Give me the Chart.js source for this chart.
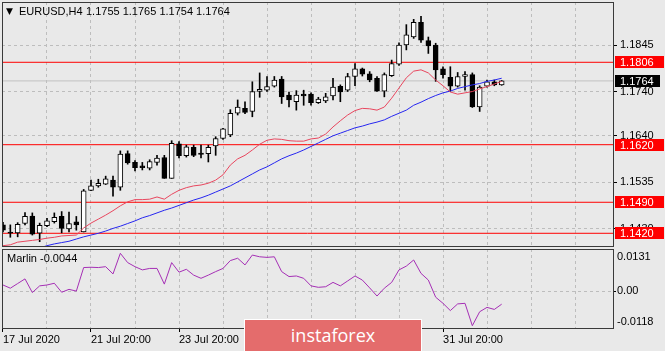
<!DOCTYPE html>
<html><head><meta charset="utf-8">
<script src="https://cdn.jsdelivr.net/npm/chart.js@4.4.0/dist/chart.umd.min.js"></script>
<style>
html,body{margin:0;padding:0;background:#e9e9e9;}
#wrap{position:relative;width:665px;height:351px;overflow:hidden;background:#e9e9e9;font-family:"Liberation Sans",Arial,sans-serif;color:#000;}
#main{position:absolute;left:0;top:0;}
#sub{position:absolute;left:0;top:248px;}
.t{position:absolute;font-size:11px;white-space:pre;line-height:13px;}
.wm{position:absolute;left:244px;top:319px;width:178px;height:34px;box-sizing:border-box;background:#e46c6c;border:1px solid #ffffff;color:#fff;font-family:"Open Sans",sans-serif;font-size:18px;text-align:center;line-height:30px;}
</style></head>
<body><div id="wrap">
<canvas id="main" width="665" height="248"></canvas>
<canvas id="sub" width="665" height="103"></canvas>
<div class="t" style="left:6px;top:5px;font-family:'DejaVu Sans';font-size:9px;">▼</div>
<div class="t" style="left:19px;top:5px;">EURUSD,H4</div>
<div class="t" id="ohlc" style="left:86px;top:5px;"></div>
<div class="t" id="ind" style="left:7px;top:252px;"></div>
<div class="wm">instaforex</div>
</div>
<script>
// ---- data (EURUSD H4) ----
const timeLabels = ['17 Jul 2020','21 Jul 20:00','23 Jul 20:00','27 Jul 20:00','29 Jul 20:00','31 Jul 20:00'];
const open = [1.1439,1.1423,1.1421,1.1442,1.1459,1.1420,1.1437,1.1446,1.1458,1.1430,
  1.1446,1.1423,1.1517,1.1527,1.1531,1.1540,1.1524,1.1600,1.1580,1.1572,
  1.1567,1.1580,1.1591,1.1544,1.1622,1.1595,1.1614,1.1601,1.1600,1.1617,
  1.1634,1.1642,1.1691,1.1702,1.1695,1.1740,1.1743,1.1752,1.1768,1.1732,
  1.1717,1.1734,1.1734,1.1715,1.1719,1.1730,1.1752,1.1743,1.1774,1.1791,
  1.1780,1.1770,1.1741,1.1776,1.1802,1.1845,1.1863,1.1896,1.1855,1.1845,
  1.1791,1.1772,1.1752,1.1774,1.1778,1.1705,1.1752,1.1762,1.1755];
const high = [1.1445,1.1439,1.1444,1.1467,1.1466,1.1443,1.1454,1.1466,1.1469,1.1468,
  1.1458,1.1519,1.1540,1.1542,1.1549,1.1549,1.1606,1.1606,1.1584,1.1580,
  1.1586,1.1596,1.1596,1.1629,1.1627,1.1619,1.1619,1.1619,1.1619,1.1638,
  1.1657,1.1699,1.1721,1.1717,1.1762,1.1782,1.1774,1.1774,1.1774,1.1739,
  1.1742,1.1743,1.1737,1.1727,1.1736,1.1770,1.1755,1.1781,1.1803,1.1793,
  1.1785,1.1774,1.1782,1.1811,1.1850,1.1891,1.1903,1.1910,1.1863,1.1849,
  1.1796,1.1796,1.1783,1.1785,1.1782,1.1753,1.1766,1.1766,1.1765];
const low = [1.1423,1.1411,1.1412,1.1439,1.1416,1.1401,1.1435,1.1443,1.1421,1.1423,
  1.1427,1.1423,1.1516,1.1524,1.1530,1.1504,1.1517,1.1576,1.1561,1.1563,
  1.1563,1.1574,1.1544,1.1544,1.1590,1.1592,1.1593,1.1590,1.1581,1.1596,
  1.1632,1.1638,1.1687,1.1690,1.1683,1.1727,1.1740,1.1750,1.1713,1.1705,
  1.1698,1.1709,1.1709,1.1713,1.1715,1.1721,1.1717,1.1740,1.1753,1.1775,
  1.1762,1.1740,1.1728,1.1774,1.1799,1.1834,1.1860,1.1851,1.1826,1.1763,
  1.1770,1.1740,1.1750,1.1743,1.1704,1.1695,1.1750,1.1753,1.1754];
const close = [1.1427,1.1420,1.1440,1.1458,1.1418,1.1438,1.1448,1.1456,1.1431,1.1442,
  1.1439,1.1516,1.1527,1.1533,1.1543,1.1524,1.1599,1.1579,1.1568,1.1568,
  1.1582,1.1590,1.1544,1.1623,1.1595,1.1615,1.1596,1.1598,1.1614,1.1634,
  1.1656,1.1691,1.1705,1.1693,1.1740,1.1745,1.1751,1.1766,1.1728,1.1721,
  1.1732,1.1730,1.1715,1.1723,1.1728,1.1750,1.1739,1.1774,1.1791,1.1779,
  1.1766,1.1741,1.1778,1.1803,1.1845,1.1868,1.1896,1.1856,1.1843,1.1789,
  1.1778,1.1752,1.1774,1.1778,1.1705,1.1750,1.1762,1.1755,1.1764];
const maRed = [1.1392,1.1394,1.1400,1.1402,1.1404,1.1406,1.1409,1.1411,1.1414,1.1415,
  1.1416,1.1432,1.1443,1.1452,1.1461,1.1471,1.1482,1.1491,1.1496,1.1496,
  1.1497,1.1502,1.1497,1.1508,1.1517,1.1523,1.1527,1.1529,1.1533,1.1540,
  1.1552,1.1574,1.1588,1.1596,1.1608,1.1621,1.1630,1.1633,1.1632,1.1629,
  1.1628,1.1628,1.1633,1.1635,1.1644,1.1660,1.1674,1.1687,1.1697,1.1702,
  1.1701,1.1698,1.1705,1.1725,1.1748,1.1771,1.1786,1.1789,1.1782,1.1766,
  1.1753,1.1739,1.1734,1.1737,1.1740,1.1746,1.1751,1.1757,1.1763];
const maBlue = [1.1364,1.1369,1.1373,1.1378,1.1383,1.1387,1.1392,1.1396,1.1399,1.1402,
  1.1407,1.1412,1.1416,1.1420,1.1425,1.1431,1.1436,1.1442,1.1448,1.1455,
  1.1460,1.1466,1.1472,1.1477,1.1483,1.1489,1.1495,1.1500,1.1506,1.1513,
  1.1520,1.1527,1.1536,1.1545,1.1554,1.1563,1.1570,1.1579,1.1588,1.1595,
  1.1601,1.1608,1.1616,1.1624,1.1632,1.1640,1.1646,1.1652,1.1658,1.1662,
  1.1667,1.1671,1.1676,1.1684,1.1691,1.1698,1.1709,1.1716,1.1724,1.1731,
  1.1737,1.1741,1.1747,1.1751,1.1755,1.1758,1.1763,1.1766,1.1770];
const marlin = [0.0022,0.0011,0.0027,0.0043,-0.0004,0.0019,0.0022,0.0028,-0.0003,0.0007,
  0.0001,0.0082,0.0083,0.0082,0.0085,0.0060,0.0131,0.0099,0.0085,0.0074,
  0.0079,0.0079,0.0025,0.0099,0.0066,0.0076,0.0056,0.0045,0.0056,0.0068,
  0.0079,0.0106,0.0114,0.0091,0.0125,0.0119,0.0117,0.0119,0.0068,0.0051,
  0.0053,0.0045,0.0019,0.0014,0.0016,0.0031,0.0019,0.0036,0.0053,0.0039,
  0.0012,-0.0016,0.0011,0.0031,0.0074,0.0087,0.0108,0.0062,0.0039,-0.0020,
  -0.0041,-0.0066,-0.0043,-0.0041,-0.0118,-0.0070,-0.0055,-0.0062,-0.0044];
const levels = [1.1806, 1.1620, 1.1490, 1.1420];
const bid = 1.1764;
const priceTicks = [1.1845, 1.1740, 1.1640, 1.1535, 1.1430];
const marlinTicks = ['0.0131', '0.00', '-0.0118'];
const indName = 'Marlin';

// ---- layout / style ----
const FONT = '"Liberation Sans", Arial, sans-serif';
const xMin = -0.136, xMax = 83.18;
const pMin = 1.13913, pMax = 1.19421;
const mMin = -0.01259, mMax = 0.01458;
const gridColor = '#bdbdbd';
const gridIdx = [];
for (let v = 0; v <= 78; v += 6) gridIdx.push(v);

const last = open.length - 1;
document.getElementById('ohlc').textContent =
  [open[last], high[last], low[last], close[last]].map(v => v.toFixed(4)).join(' ');
document.getElementById('ind').textContent = indName + ' ' + marlin[last].toFixed(4);

const idx = open.map((_, i) => i);
const bodies = idx.map(i => ({x: i, y: [open[i], close[i]]}));
const wicks = idx.map(i => ({x: i, y: [low[i], high[i]]}));
const bodyFill = idx.map(i => close[i] >= open[i] ? '#ffffff' : '#000000');

const noPad = s => { s.paddingTop = 0; s.paddingBottom = 0; s.paddingLeft = 0; s.paddingRight = 0; };

const framePlugin = {
  id: 'frame',
  afterDraw(chart) {
    const {ctx, chartArea: a} = chart;
    ctx.save();
    ctx.strokeStyle = '#3a3a3a';
    ctx.lineWidth = 1;
    const l = Math.floor(a.left) + 0.5, t = Math.floor(a.top) + 0.5;
    const r = Math.floor(a.right) + 0.5, b = Math.floor(a.bottom) + 0.5;
    ctx.strokeRect(l, t, r - l, b - t);
    ctx.restore();
  }
};

const priceBoxes = {
  id: 'priceBoxes',
  afterDraw(chart) {
    const {ctx, scales: {y}} = chart;
    ctx.save();
    ctx.font = '11px ' + FONT;
    ctx.textBaseline = 'middle';
    levels.forEach(v => {
      const py = Math.round(y.getPixelForValue(v));
      ctx.fillStyle = '#ff0000';
      ctx.fillRect(615, py - 6, 49, 12);
      ctx.fillStyle = '#ffffff';
      ctx.fillText(v.toFixed(4), 620, py + 0.5);
    });
    const by = Math.round(y.getPixelForValue(bid));
    ctx.fillStyle = '#000000';
    ctx.fillRect(615, by - 6, 45, 12);
    ctx.fillStyle = '#ffffff';
    ctx.fillText(bid.toFixed(4), 620, by + 0.5);
    ctx.restore();
  }
};

const marlinLabels = {
  id: 'marlinLabels',
  afterDraw(chart) {
    const {ctx, chartArea: a, scales: {y}} = chart;
    ctx.save();
    ctx.font = '11px ' + FONT;
    ctx.fillStyle = '#000';
    ctx.textBaseline = 'middle';
    ctx.fillText(marlinTicks[0], 617, a.top + 8);
    ctx.fillText(marlinTicks[1], 617, y.getPixelForValue(0));
    ctx.fillText(marlinTicks[2], 617, a.bottom - 6);
    ctx.restore();
  }
};

const hline = v => [{x: xMin, y: v}, {x: xMax, y: v}];

new Chart(document.getElementById('main'), {
  type: 'bar',
  data: {
    datasets: [
      ...levels.map(v => ({type: 'line', data: hline(v), borderColor: '#ff0000', borderWidth: 1, pointRadius: 0, order: 6})),
      {type: 'line', data: hline(bid), borderColor: '#c2c2c2', borderWidth: 1, pointRadius: 0, order: 7},
      {type: 'bar', data: wicks, barThickness: 1, backgroundColor: '#000', borderWidth: 0, grouped: false, minBarLength: 1, order: 4},
      {type: 'bar', data: bodies, barThickness: 5, backgroundColor: bodyFill, borderColor: '#000', borderWidth: 1,
       borderSkipped: false, grouped: false, minBarLength: 1, order: 3},
      {type: 'line', data: idx.map(i => ({x: i, y: maBlue[i]})), borderColor: '#2626f0', borderWidth: 1, pointRadius: 0, tension: 0, order: 2},
      {type: 'line', data: idx.map(i => ({x: i, y: maRed[i]})), borderColor: '#e8465e', borderWidth: 1, pointRadius: 0, tension: 0, order: 1}
    ]
  },
  options: {
    responsive: false, animation: false, events: [],
    layout: {padding: {left: 2, top: 2, right: 0, bottom: 2}},
    plugins: {legend: {display: false}, tooltip: {enabled: false}},
    scales: {
      x: {type: 'linear', min: xMin, max: xMax, offset: false,
          afterBuildTicks: s => { s.ticks = gridIdx.map(v => ({value: v})); },
          afterFit: s => { s.height = 0; noPad(s); },
          ticks: {display: false},
          grid: {color: gridColor, drawTicks: false, offset: false},
          border: {display: false, dash: [3, 3]}},
      y: {position: 'right', min: pMin, max: pMax,
          afterBuildTicks: s => { s.ticks = priceTicks.map(v => ({value: v})); },
          afterFit: s => { s.width = 52; noPad(s); },
          ticks: {callback: v => Number(v).toFixed(4), font: {family: FONT, size: 11}, color: '#000', padding: 3},
          grid: {color: gridColor, drawTicks: true, tickLength: 4, tickColor: '#000', tickBorderDash: []},
          border: {display: false, dash: [3, 3]}}
    }
  },
  plugins: [framePlugin, priceBoxes]
});

new Chart(document.getElementById('sub'), {
  type: 'line',
  data: {
    datasets: [{data: idx.map(i => ({x: i, y: marlin[i]})), borderColor: '#a52fb5', borderWidth: 1, pointRadius: 0, tension: 0}]
  },
  options: {
    responsive: false, animation: false, events: [],
    layout: {padding: {left: 2, top: 1, right: 0, bottom: 0}},
    plugins: {legend: {display: false}, tooltip: {enabled: false}},
    scales: {
      x: {type: 'linear', min: xMin, max: xMax, offset: false,
          afterBuildTicks: s => { s.ticks = gridIdx.map(v => ({value: v})); },
          afterFit: s => { s.height = 23; noPad(s); },
          ticks: {autoSkip: false, maxRotation: 0, align: 'start', padding: 1,
                  font: {family: FONT, size: 11}, color: '#000',
                  callback: v => (v % 12 === 0 && v / 12 < timeLabels.length) ? timeLabels[v / 12] : ''},
          grid: {color: gridColor, drawTicks: true, tickLength: 4,
                 tickColor: c => (c.tick && c.tick.value % 12 === 0 && c.tick.value / 12 < timeLabels.length) ? '#000' : 'rgba(0,0,0,0)'},
          border: {display: false, dash: [3, 3]}},
      y: {position: 'right', min: mMin, max: mMax,
          afterBuildTicks: s => { s.ticks = [{value: 0}]; },
          afterFit: s => { s.width = 52; noPad(s); },
          ticks: {display: false},
          grid: {color: gridColor, drawTicks: true, tickLength: 3, tickColor: '#000'},
          border: {display: false, dash: [3, 3]}}
    }
  },
  plugins: [framePlugin, marlinLabels]
});
</script>
</body></html>
